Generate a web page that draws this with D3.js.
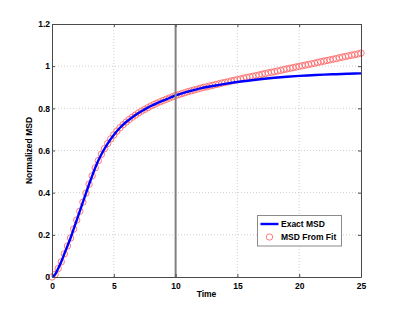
<!DOCTYPE html>
<html>
<head>
<meta charset="utf-8">
<script src="https://cdn.jsdelivr.net/npm/d3@7"></script>
<style>
  body { margin: 0; background: #fff; }
  text { font-family: "Liberation Sans", Arial, sans-serif; font-weight: bold; }
</style>
</head>
<body>
<svg id="chart" width="399" height="312"></svg>
<script>
// exact MSD curve
const exactT = [0, 0.25, 0.5, 0.75, 1, 1.25, 1.5, 1.75, 2, 2.25, 2.5, 2.75, 3, 3.25, 3.5, 3.75, 4, 4.5, 5, 5.5, 6, 6.5, 7, 7.5, 8, 8.5, 9, 9.5, 10, 11, 12, 13, 14, 15, 16, 17, 18, 19, 20, 21, 22, 23, 24, 25];
const exactY = [0, 0.012, 0.04, 0.072, 0.11, 0.147, 0.185, 0.227, 0.27, 0.312, 0.355, 0.398, 0.44, 0.48, 0.518, 0.552, 0.582, 0.633, 0.674, 0.708, 0.735, 0.758, 0.778, 0.795, 0.811, 0.825, 0.837, 0.849, 0.861, 0.879, 0.895, 0.906, 0.916, 0.925, 0.932, 0.939, 0.945, 0.95, 0.954, 0.957, 0.96, 0.962, 0.964, 0.966];

// fitted MSD markers, every 0.25 time units from 0 to 25
const fitT0 = 0, fitDt = 0.25;
const fitY = [
  0, 0.012, 0.04, 0.072, 0.11, 0.147, 0.185, 0.227, 0.27, 0.312,
  0.355, 0.398, 0.44, 0.48, 0.518, 0.552, 0.582, 0.609, 0.633, 0.655,
  0.674, 0.692, 0.708, 0.722, 0.735, 0.747, 0.758, 0.768, 0.778, 0.787,
  0.795, 0.803, 0.811, 0.818, 0.825, 0.831, 0.837, 0.843, 0.849, 0.855,
  0.861, 0.865, 0.87, 0.874, 0.879, 0.883, 0.887, 0.891, 0.895, 0.899,
  0.902, 0.906, 0.909, 0.913, 0.916, 0.92, 0.923, 0.926, 0.93, 0.933,
  0.936, 0.939, 0.943, 0.946, 0.949, 0.952, 0.955, 0.958, 0.962, 0.965,
  0.968, 0.971, 0.974, 0.977, 0.98, 0.984, 0.987, 0.99, 0.993, 0.996,
  0.999, 1.002, 1.005, 1.008, 1.011, 1.014, 1.018, 1.021, 1.024, 1.027,
  1.03, 1.033, 1.036, 1.04, 1.043, 1.046, 1.049, 1.052, 1.055, 1.058,
  1.062
];

const xTicks = [0, 5, 10, 15, 20, 25];
const yTicks = [0, 0.2, 0.4, 0.6, 0.8, 1, 1.2];
const markerTime = 10;
const seriesNames = ["Exact MSD", "MSD From Fit"];

const svg = d3.select("#chart");
const m = { left: 52, right: 38, top: 24, bottom: 35 };
const W = 399, H = 312;

const x = d3.scaleLinear().domain([0, 25]).range([m.left, W - m.right]);
const y = d3.scaleLinear().domain([0, 1.2]).range([H - m.bottom, m.top]);

const g = svg.append("g");

// dotted grid
g.selectAll("line.gx").data(xTicks.slice(1, -1)).enter().append("line")
  .attr("x1", d => x(d)).attr("x2", d => x(d))
  .attr("y1", y(0)).attr("y2", y(1.2))
  .attr("stroke", "#c4c4c4").attr("stroke-width", 0.8).attr("stroke-dasharray", "1,2");
g.selectAll("line.gy").data(yTicks.slice(1, -1)).enter().append("line")
  .attr("x1", x(0)).attr("x2", x(25))
  .attr("y1", d => y(d)).attr("y2", d => y(d))
  .attr("stroke", "#c4c4c4").attr("stroke-width", 0.8).attr("stroke-dasharray", "1,2");

// fit markers
const fitData = fitY.map((v, i) => ({ t: fitT0 + i * fitDt, v }));
g.selectAll("circle.fit").data(fitData).enter().append("circle")
  .attr("cx", d => x(d.t)).attr("cy", d => y(d.v)).attr("r", 3.2)
  .attr("fill", "none").attr("stroke", "#ff6a6a").attr("stroke-width", 0.9);

// exact line
const line = d3.line().x(d => x(d[0])).y(d => y(d[1])).curve(d3.curveMonotoneX);
g.append("path").datum(exactT.map((t, i) => [t, exactY[i]]))
  .attr("d", line).attr("fill", "none").attr("stroke", "#0000ff").attr("stroke-width", 2.4);

// vertical marker at t = 10
g.append("line")
  .attr("x1", x(markerTime)).attr("x2", x(markerTime))
  .attr("y1", y(0)).attr("y2", y(1.2))
  .attr("stroke", "#808080").attr("stroke-width", 2);

// axes box with inward ticks
const axisColor = "#4a4a4a";
const ax = g.append("g").attr("transform", `translate(0,${y(0)})`)
  .call(d3.axisBottom(x).tickValues(xTicks).tickSizeInner(-3).tickSizeOuter(0).tickPadding(6));
const axTop = g.append("g").attr("transform", `translate(0,${y(1.2)})`)
  .call(d3.axisTop(x).tickValues(xTicks).tickSizeInner(-3).tickSizeOuter(0).tickFormat(""));
const ay = g.append("g").attr("transform", `translate(${x(0)},0)`)
  .call(d3.axisLeft(y).tickValues(yTicks).tickSizeInner(-3).tickSizeOuter(0).tickPadding(2).tickFormat(d3.format("~g")));
const ayR = g.append("g").attr("transform", `translate(${x(25)},0)`)
  .call(d3.axisRight(y).tickValues(yTicks).tickSizeInner(-3).tickSizeOuter(0).tickFormat(""));
[ax, axTop, ay, ayR].forEach(a => {
  a.select(".domain").attr("stroke", axisColor).attr("stroke-width", 1);
  a.selectAll(".tick line").attr("stroke", axisColor);
  a.selectAll("text").attr("fill", "#000").style("font-size", "8.5px")
    .style("font-family", "'Liberation Sans', Arial, sans-serif").style("font-weight", "bold");
});

// axis labels
svg.append("text").attr("x", x(12.5)).attr("y", 297).attr("text-anchor", "middle")
  .style("font-size", "8.5px").text("Time");
svg.append("text").attr("transform", `translate(32,${y(0.6)}) rotate(-90)`)
  .attr("text-anchor", "middle").style("font-size", "8.5px").text("Normalized MSD");

// legend
const lg = svg.append("g").attr("transform", "translate(257.5,215.5)");
lg.append("rect").attr("width", 84).attr("height", 30.5)
  .attr("fill", "#fff").attr("stroke", "#8a8a8a").attr("stroke-width", 1);
lg.append("line").attr("x1", 3).attr("x2", 21).attr("y1", 8.5).attr("y2", 8.5)
  .attr("stroke", "#0000ff").attr("stroke-width", 2.4);
lg.append("circle").attr("cx", 12).attr("cy", 21.5).attr("r", 3.2)
  .attr("fill", "none").attr("stroke", "#ff6a6a").attr("stroke-width", 0.9);
lg.selectAll("text.item").data(seriesNames).enter().append("text")
  .attr("x", 23.5).attr("y", (d, i) => 11.5 + i * 13)
  .style("font-size", "8.5px").text(d => d);
</script>
</body>
</html>
